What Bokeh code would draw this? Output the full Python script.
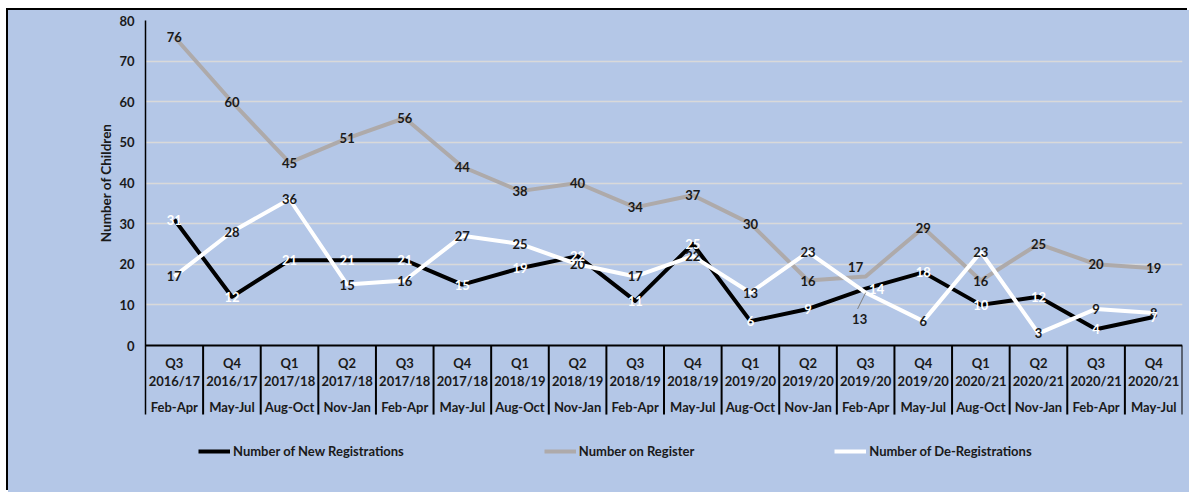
from bokeh.plotting import figure
from bokeh.models import ColumnDataSource, Range1d, FixedTicker, Legend, LegendItem, Title
from bokeh.core.properties import value
from bokeh.embed import file_html
from bokeh.resources import INLINE

quarters = ["Q3", "Q4", "Q1", "Q2", "Q3", "Q4", "Q1", "Q2", "Q3", "Q4", "Q1", "Q2", "Q3", "Q4", "Q1", "Q2", "Q3", "Q4"]
years = ["2016/17", "2016/17", "2017/18", "2017/18", "2017/18", "2017/18", "2018/19", "2018/19", "2018/19",
         "2018/19", "2019/20", "2019/20", "2019/20", "2019/20", "2020/21", "2020/21", "2020/21", "2020/21"]
months = ["Feb-Apr", "May-Jul", "Aug-Oct", "Nov-Jan", "Feb-Apr", "May-Jul", "Aug-Oct", "Nov-Jan", "Feb-Apr",
          "May-Jul", "Aug-Oct", "Nov-Jan", "Feb-Apr", "May-Jul", "Aug-Oct", "Nov-Jan", "Feb-Apr", "May-Jul"]
new_regs = [31, 12, 21, 21, 21, 15, 19, 22, 11, 25, 6, 9, 14, 18, 10, 12, 4, 7]
on_register = [76, 60, 45, 51, 56, 44, 38, 40, 34, 37, 30, 16, 17, 29, 16, 25, 20, 19]
de_regs = [17, 28, 36, 15, 16, 27, 25, 20, 17, 22, 13, 23, 13, 6, 23, 3, 9, 8]
y_ticks = [0, 10, 20, 30, 40, 50, 60, 70, 80]
series_names = ["Number of New Registrations", "Number on Register", "Number of De-Registrations"]

BG = "#B4C7E7"
GRID = "#D9D9D9"
GRAY = "#AEAAAA"
FONT = "Lato"
FS = "13px"
TXT = "#1a1a1a"

n = len(quarters)
xs = [i + 0.5 for i in range(n)]
PX = 325 / 80.0  # pixels per unit
frame_h = 472
ymin = 80 - frame_h / PX

p = figure(width=1181, height=482, x_range=Range1d(0, n), y_range=Range1d(ymin, 80),
           x_axis_type=None, output_backend="svg", toolbar_location=None,
           min_border_left=137, min_border_right=7, min_border_top=10, min_border_bottom=0,
           background_fill_alpha=0, border_fill_alpha=0, outline_line_color=None)
p.margin = (10, 0, 0, 8)
p.styles = {"box-shadow": "-2px -2px 0px 0px black", "background-color": BG}

# grid
p.xgrid.visible = False
p.ygrid.ticker = FixedTicker(ticks=y_ticks[1:])
p.ygrid.grid_line_color = GRID
p.ygrid.grid_line_width = 1.5

# y axis
ya = p.yaxis[0]
ya.ticker = FixedTicker(ticks=y_ticks)
ya.bounds = (-17, 80)
ya.axis_line_color = "black"
ya.axis_line_width = 1.5
ya.major_tick_in = 0
ya.major_tick_out = 0
ya.minor_tick_in = 0
ya.minor_tick_out = 0
ya.major_label_standoff = 11
ya.major_label_text_font = FONT
ya.major_label_text_font_style = "bold"
ya.major_label_text_font_size = FS
ya.major_label_text_color = TXT

p.add_layout(Title(text="Number of Children", align="right", offset=103, standoff=6,
                   text_font=FONT, text_font_style="bold", text_font_size="13.5px",
                   text_color=TXT), "left")

# category table
cat = ColumnDataSource(dict(x=xs, q=quarters, yr=years, m=months,
                            sx=[i + 1 for i in range(n)]))
p.segment(x0=0, y0=0, x1=n, y1=0, line_color="black", line_width=2)
p.segment(x0="sx", y0=0, x1="sx", y1=-17, source=cat, line_color="black", line_width=2)
for col, yy in (("q", -4.43), ("yr", -8.62), ("m", -15.2)):
    p.text(x="x", y=yy, text=col, source=cat, text_align="center", text_baseline="middle",
           text_font=value(FONT), text_font_style="bold", text_font_size=FS, text_color=TXT)

# lines
src = ColumnDataSource(dict(x=xs, a=new_regs, b=on_register, c=de_regs,
                            la=[str(v) for v in new_regs], lb=[str(v) for v in on_register],
                            lc=[str(v) for v in de_regs]))
r_a = p.line("x", "a", source=src, line_color="black", line_width=4, line_join="round")
r_b = p.line("x", "b", source=src, line_color=GRAY, line_width=4, line_join="round")
r_c = p.line("x", "c", source=src, line_color="white", line_width=4, line_join="round")

# label offsets (style only): index -> (dx, dy) in px
off_a = {12: (11, 0)}
off_b = {12: (-10, -9)}
off_c = {12: (-6, 26)}

def offs(d):
    return [d.get(i, (0, 0))[0] for i in range(n)], [d.get(i, (0, 0))[1] for i in range(n)]

# leader line for moved label
p.segment(x0=[xs[12]], y0=[de_regs[12]], x1=[xs[12] - 0.14], y1=[de_regs[12] - 4],
          line_color="#7f7f7f", line_width=1)

for col, color, d in (("lb", TXT, off_b), ("lc", TXT, off_c), ("la", "white", off_a)):
    ycol = {"la": "a", "lb": "b", "lc": "c"}[col]
    dx, dy = offs(d)
    s = ColumnDataSource(dict(x=xs, y=src.data[ycol], t=src.data[col], dx=dx, dy=dy))
    p.text(x="x", y="y", text="t", source=s, x_offset="dx", y_offset="dy",
           text_align="center", text_baseline="middle",
           text_font=value(FONT), text_font_style="bold", text_font_size=FS, text_color=color)

legend = Legend(items=[LegendItem(label=series_names[0], renderers=[r_a]),
                       LegendItem(label=series_names[1], renderers=[r_b]),
                       LegendItem(label=series_names[2], renderers=[r_c])],
                orientation="horizontal", location=(53, 31), spacing=140, padding=0, margin=0,
                glyph_width=32, glyph_height=20, label_standoff=3,
                label_text_font=FONT, label_text_font_style="bold", label_text_font_size="13px",
                label_text_color=TXT, background_fill_alpha=0, border_line_color=None)
p.add_layout(legend)

open("out.html", "w").write(file_html(p, INLINE))
